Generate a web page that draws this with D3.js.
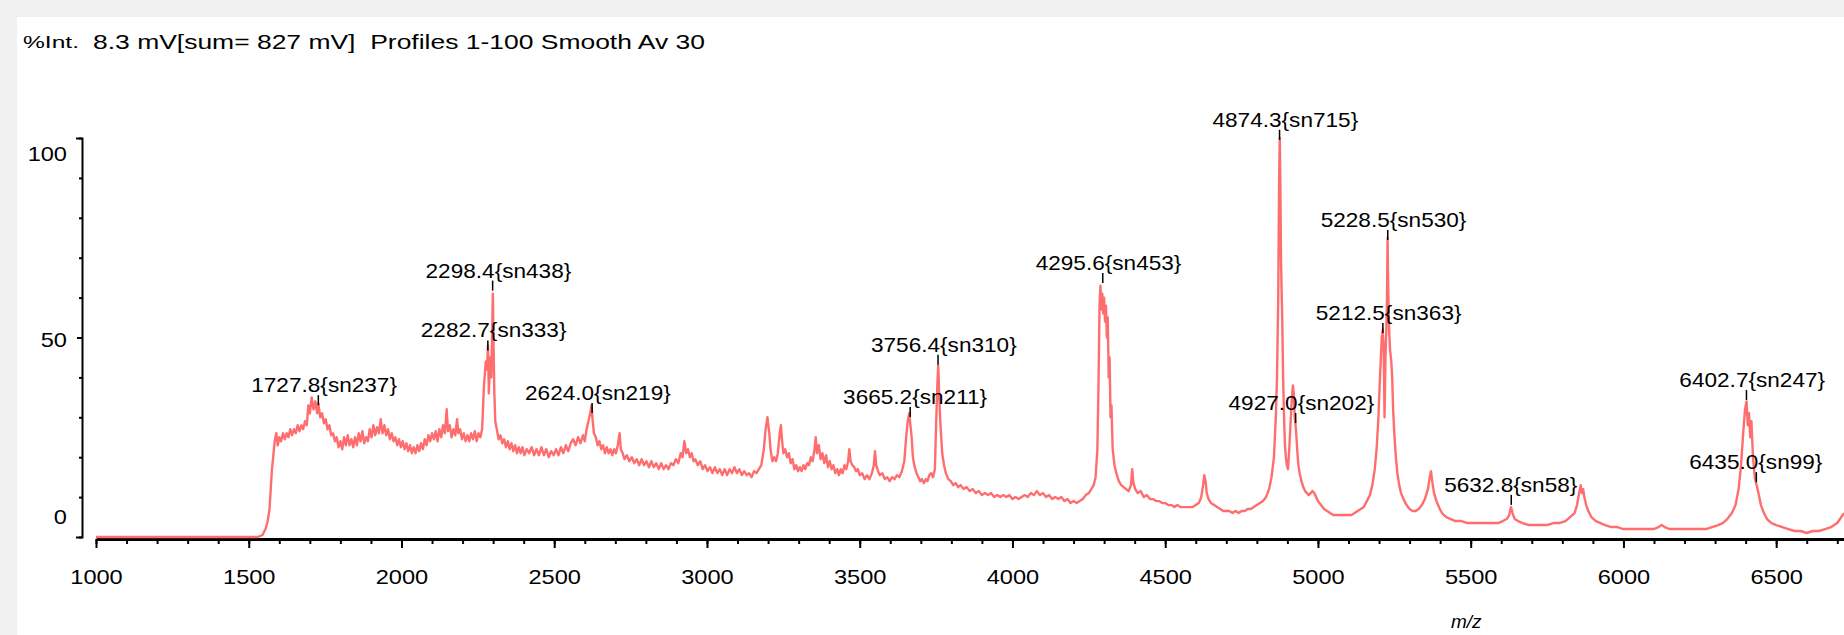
<!DOCTYPE html>
<html>
<head>
<meta charset="utf-8">
<script src="https://cdn.jsdelivr.net/npm/d3@7"></script>
<style>
  body { margin: 0; background: #f0f0f0; }
  svg text { font-family: "Liberation Sans", Arial, sans-serif; fill: #000; }
</style>
</head>
<body>
<div id="spectrum"></div>
<script>
// spectrum trace (m/z, %Int)
var mz = [1000,1530,1545,1555,1562,1568,1572,1576,1580,1585,1590,
  1595,1600,1606,1612,1618,1624,1630,1636,1642,1648,1654,1660,1666,1672,1678,1684,1690,1695,1700,1706,1712,1718,1724,1728,1734,1740,1746,1752,1758,1764,1770,1776,1782,1788,1794,1800,
  1806,1812,1818,1824,1830,1836,1842,1848,1854,1860,1866,1872,1878,1884,1890,1896,1902,1908,1914,1920,1926,1932,1938,1944,1950,1956,1962,1968,1974,1980,1986,1992,1998,
  2004,2010,2016,2022,2028,2034,2040,2046,2052,2058,2064,2070,2076,2082,2088,2094,2100,2106,2112,2118,2124,2130,2136,2142,2148,2152,2158,2164,2170,2176,2182,2186,2192,2198,
  2204,2210,2216,2222,2228,2234,2240,2246,2252,2258,2264,2270,2276,2280,2283,2286,2290,2294,2297,2299,2301,2304,2307,2312,2318,2324,2330,2336,2342,2348,2354,2360,2366,2372,2378,2384,2390,2396,
  2402,2410,2418,2426,2434,2442,2450,2458,2466,2474,2482,2490,2498,2506,2514,2522,2530,2538,2546,2554,2562,2570,2578,2586,2594,2600,2606,2612,2618,2622,2626,2630,2636,2642,2648,2654,2660,2666,2672,2678,2684,2690,2696,
  2702,2708,2714,2718,2724,2730,2738,2746,2754,2762,2770,2778,2786,2794,2802,2810,2818,2826,2834,2842,2850,2858,2866,2874,2882,2890,2898,2906,2914,2920,2926,2932,2938,2944,2950,2956,2962,2970,2978,2986,2994,
  3002,3010,3018,3026,3034,3042,3050,3058,3066,3074,3082,3090,3098,3106,3114,3122,3130,3138,3146,3154,3162,3170,3178,3186,3192,3198,3204,3208,3214,3220,3226,3232,3238,3242,3246,3250,3256,3262,3268,3274,3280,3286,3292,3298,
  3304,3310,3316,3322,3328,3334,3340,3346,3352,3356,3360,3366,3372,3378,3384,3390,3396,3402,3408,3414,3420,3426,3432,3438,3444,3450,3456,3462,3466,3470,3476,3482,3488,3494,3500,
  3508,3516,3524,3532,3540,3546,3550,3554,3560,3566,3574,3582,3590,3598,3606,3614,3622,3630,3638,3646,3652,3657,3662,3666,3670,3674,3680,3686,3692,3698,
  3704,3710,3716,3722,3728,3734,3740,3746,3750,3754,3757,3760,3763,3766,3770,3776,3782,3790,3798,3806,3814,3822,3830,3840,3850,3860,3870,3880,3890,3900,
  3910,3920,3930,3940,3950,3960,3970,3980,3990,4000,4010,4020,4030,4040,4050,4060,4070,4080,4090,4100,4110,4120,4130,4140,4150,4160,4170,4180,4190,4200,
  4210,4220,4230,4240,4250,4258,4266,4272,4278,4282,4285,4288,4291,4294,4297,4300,4303,4306,4309,4312,4315,4318,4321,4324,4328,4334,4340,4348,4356,4364,4372,4380,4388,4392,4396,
  4402,4410,4420,4430,4440,4450,4460,4470,4480,4490,4500,4510,4520,4530,4540,4550,4560,4570,4580,4590,4600,4610,4618,4624,4628,4632,4636,4642,4650,4660,4670,4680,4690,4700,
  4710,4720,4730,4740,4750,4760,4770,4780,4790,4800,4810,4820,4830,4840,4848,4856,4862,4866,4870,4873,4875,4877,4879,4881,4883,4886,4889,4892,4895,4898,
  4902,4906,4910,4914,4918,4921,4924,4928,4932,4936,4940,4946,4952,4958,4964,4970,4976,4982,4988,4994,5000,5010,5020,5030,5040,5050,5060,5070,5080,5090,5100,
  5110,5120,5130,5140,5150,5160,5170,5178,5186,5192,5198,5202,5206,5209,5212,5215,5218,5221,5224,5226,5228,5230,5233,5236,5240,5243,5246,5250,5255,5260,5266,5272,5280,5290,5300,
  5310,5320,5330,5340,5350,5360,5366,5370,5374,5380,5388,5396,5406,5420,5435,5450,5470,5490,5510,5530,5550,5570,5590,5605,5618,5626,5632,5637,5644,5655,5670,5690,
  5710,5730,5750,5770,5790,5810,5825,5840,5848,5855,5860,5864,5868,5872,5878,5885,5895,5910,5925,5940,5960,5980,6000,6020,6040,6060,6080,6100,
  6115,6125,6135,6150,6170,6190,6210,6230,6250,6270,6290,6310,6325,6340,6355,6367,6377,6385,6392,6398,6403,6407,6411,6415,6419,6424,6430,6436,6442,6450,6460,6470,6485,
  6500,6520,6540,6560,6580,6600,6620,6640,6660,6680,6700,6722];

var intensity = [0,0,0.5,2,4,7,12,17,20,24,26,
  23,25,24,26,24.5,26,25,27,25.5,27,26,28,26.5,28,27,29,28,33,31,35,32,34,31,33.5,30,31,28.5,29.5,27,28,25.5,26,24,25,22.5,24,
  22,25,23,25.5,23,24.5,22.5,25,23,26,24,26.5,23.5,25,24,27,25,28,25.5,27.5,26,29.5,26,28,25.5,27,24.5,26,24,25,23,24.5,22.5,
  24,22,23.5,21.5,23,21,22.5,21,23,21.5,23.5,22,24.5,23,25.5,24,26,24.5,26.5,24,27,25,28,26,32,26.5,28,25,27,25.5,29.5,26,27,24.5,
  26,24,25.5,24,26,24.5,26.5,24,26,25,27,38,44,42,48,36,45,40,52,61,50,36,29,27,24.5,25.5,23.5,24.5,22.5,24,22,23.5,21.5,23,21,22.5,21,22.5,
  20.5,22,21,22.5,20.5,22,20.5,22.5,20.5,22,20,21.5,20.5,22,20.5,22.5,21,23,21.5,23.5,24.5,23,25,23.5,25.5,24,27,29,31,33,29,26,25,23,24,22,23,21,22.5,21,22,20.5,22,
  21,23,26,22,21,19.5,20.5,19,20,18.5,19.5,18,19.5,18,19,17.5,19,17.5,18.5,17,18.5,17,18,17,18.5,18,19.5,18.5,21,20,24,21,22,20,21,19,19.5,18,19,17,18,
  16.5,17.5,16,17.5,16,17,15.5,17,15.5,17,16,17.5,16,17,15.5,16.5,15.5,16,15,16.5,16,17,18,22,27,30,26,22,19,20,19,21,26,28,24,21,22,20,21,18.5,19.5,17,18,16.5,
  17.5,16.5,18,17,18.5,18,20,19,22,25,21,23,19.5,21,18.5,20.5,17.5,19,17,18,16,17,15.5,17,16,18,17,19,22,19,18,17.5,16.5,17,15.5,
  16,14.5,15.5,14.5,16,18,21.5,18,16.5,15.5,16,14.5,15,14,15,14.5,15.5,15,16.5,19,25,29,31,28,25,20,17.5,16,15,14,
  14.5,13.5,14.5,14,15.5,16,15,17,28,38,43,36,30,26,21,18,16,14.5,14,13,13.5,12.5,13,12,12.5,11.5,12,11,11.5,10.5,
  11,10.5,11,10,10.5,10,10.5,10,10.5,9.5,10,9.5,10,10.5,10,11,10.5,11.5,10.5,11,10,10.5,9.5,10,9.5,10,9,9.5,8.5,9,
  8.5,9,9.5,10.5,11,12,13,15,22,40,58,63,57,61,56,60,54,58,50,55,40,45,30,33,22,18,16,14,13,12.5,12,11.5,13,17,13.5,
  12,11,11.5,10,10.5,9.5,9.5,9,9,8.5,8.5,8,8,7.5,8,7.5,7.5,7.5,7.5,7.5,8,8.5,10,13,15.5,14,11,9.5,8.5,8,7.5,7,6.5,6.5,
  6.5,6,6.5,6,6.5,6.5,7,7,7.5,8,8.5,9,10,12,15,20,30,40,60,90,100,88,70,62,55,40,30,23,20,18,
  17,22,28,34,38,36,30,27,22,18,16,14,12.5,11.5,11,10.5,11,11.5,11,10,9,8,7,6.5,6,5.5,5.5,5.5,5.5,5.5,5.5,
  5.5,6,6.5,7,7.5,9,10.5,13,17,22,30,38,45,50,52,48,30,45,52,60,75,62,52,47,44,40,32,26,20,16,13,11,9.5,8,7,
  6.5,6.5,7,8,9.5,12,15,16.5,14,11,9,7.5,6,5,4.5,4,4,3.5,3.5,3.5,3.5,3.5,3.5,4,4.5,5.5,7.5,6,4.5,4,3.5,3,
  3,3,3,3.5,3.5,4,5,6,8,11,13,11,12,10,8,6.5,5,4,3.5,3,2.5,2.5,2,2,2,2,2,2,
  2.5,3,2.5,2,2,2,2,2,2,2,2.5,3,3.5,4.5,6,8,12,18,26,32,34,28,31,25,29,20,15,13,11,8,6,4.5,3.5,
  3,2.5,2,1.5,1.5,1,1.5,1.5,2,2.5,3.5,6];

// labelled peaks
var peakMz = [1727.8, 2282.7, 2298.4, 2624.0, 3665.2, 3756.4, 4295.6, 4874.3, 4927.0, 5212.5, 5228.5, 5632.8, 6402.7, 6435.0];
var peakSn = [237, 333, 438, 219, 211, 310, 453, 715, 202, 363, 530, 58, 247, 99];
var peakLevel = [32.3, 46, 61, 30.3, 29.3, 42.4, 62.9, 98.8, 27.8, 50.4, 73.7, 7.3, 33.6, 13];

// axis ticks
var xMajorTicks = [1000, 1500, 2000, 2500, 3000, 3500, 4000, 4500, 5000, 5500, 6000, 6500];
var xMinorTicks = d3.range(1000, 6701, 100);
var yTicks = [0, 10, 20, 30, 40, 50, 60, 70, 80, 90, 100];
var yLabels = [0, 50, 100];

var titleLeft = "%Int.";
var titleRight = "8.3 mV[sum= 827 mV]  Profiles 1-100 Smooth Av 30";

var width = 1844, height = 635;
var stretch = 1.13;

var svg = d3.select("#spectrum").append("svg")
  .attr("width", width)
  .attr("height", height)
  .style("display", "block");

// white panel
svg.append("rect")
  .attr("x", 17).attr("y", 17)
  .attr("width", width - 17).attr("height", height - 17)
  .attr("fill", "#fff");

var xScale = d3.scaleLinear().domain([1000, 6722]).range([96, 1844]);
var yScale = d3.scaleLinear().domain([0, 100]).range([537, 138]);

// title
svg.append("text")
  .attr("x", 23).attr("y", 48)
  .attr("font-size", 17)
  .attr("textLength", 56)
  .attr("lengthAdjust", "spacingAndGlyphs")
  .text(titleLeft);
svg.append("text")
  .attr("x", 93).attr("y", 49)
  .attr("font-size", 21)
  .attr("textLength", 612)
  .attr("lengthAdjust", "spacingAndGlyphs")
  .style("white-space", "pre")
  .text(titleRight);

// x axis: minor then major ticks
var xAxisG = svg.append("g").attr("transform", "translate(0,539)");
xAxisG.append("g")
  .call(d3.axisBottom(xScale).tickValues(xMinorTicks).tickSize(5).tickSizeOuter(0).tickFormat(""))
  .call(function(g) {
    g.select(".domain").attr("stroke", "#000").attr("stroke-width", 3);
    g.selectAll(".tick line").attr("stroke", "#000").attr("stroke-width", 2);
  });
xAxisG.append("g")
  .call(d3.axisBottom(xScale).tickValues(xMajorTicks).tickSize(9).tickSizeOuter(0).tickFormat(d3.format("d")))
  .call(function(g) {
    g.select(".domain").remove();
    g.selectAll(".tick line").attr("stroke", "#000").attr("stroke-width", 2);
    g.selectAll(".tick text")
      .attr("y", 45).attr("dy", null)
      .attr("font-size", 20)
      .attr("fill", "#000")
      .attr("font-family", "Liberation Sans, Arial, sans-serif")
      .attr("transform", "scale(1.18,1)");
  });

// y axis: bracket + ticks
svg.append("g")
  .attr("transform", "translate(82,0)")
  .call(d3.axisLeft(yScale).tickValues(yTicks).tickSize(3).tickSizeOuter(6).tickFormat(""))
  .call(function(g) {
    g.select(".domain").attr("stroke", "#000").attr("stroke-width", 2);
    g.selectAll(".tick line")
      .attr("stroke", "#000").attr("stroke-width", 2)
      .attr("x2", function(d) { return d === 50 ? -5 : -3; });
  });

svg.selectAll(".ylab")
  .data(yLabels)
  .enter().append("text")
  .attr("class", "ylab")
  .attr("font-size", 20)
  .attr("text-anchor", "end")
  .attr("transform", function(d) {
    var off = d === 100 ? 23 : (d === 0 ? -13 : 9);
    return "translate(67," + (yScale(d) + off) + ") scale(1.18,1)";
  })
  .text(function(d) { return d; });

// spectrum trace
var pts = mz.map(function(m, i) { return [m, intensity[i]]; });
var line = d3.line()
  .x(function(d) { return xScale(d[0]); })
  .y(function(d) { return yScale(d[1]); });

svg.append("path")
  .datum(pts)
  .attr("fill", "none")
  .attr("stroke", "#ff6e6e")
  .attr("stroke-width", 2.4)
  .attr("stroke-linejoin", "round")
  .attr("d", line);

// peak labels
var labels = svg.selectAll(".peak")
  .data(peakMz)
  .enter().append("g")
  .attr("class", "peak")
  .attr("transform", function(d, i) {
    return "translate(" + xScale(d) + "," + yScale(peakLevel[i]) + ")";
  });

labels.append("line")
  .attr("x1", 0).attr("x2", 0)
  .attr("y1", -13).attr("y2", -3)
  .attr("stroke", "#000")
  .attr("stroke-width", 1.5);

labels.append("text")
  .attr("font-size", 20)
  .attr("text-anchor", "end")
  .attr("transform", "translate(2,-16) scale(" + stretch + ",1)")
  .text(function(d) { return d.toFixed(1); });

labels.append("text")
  .attr("font-size", 20)
  .attr("text-anchor", "start")
  .attr("transform", "translate(2,-16) scale(" + stretch + ",1)")
  .text(function(d, i) { return "{sn" + peakSn[i] + "}"; });

// axis title
svg.append("text")
  .attr("x", 1451).attr("y", 628)
  .attr("font-size", 19)
  .attr("font-style", "italic")
  .text("m/z");
</script>
</body>
</html>
